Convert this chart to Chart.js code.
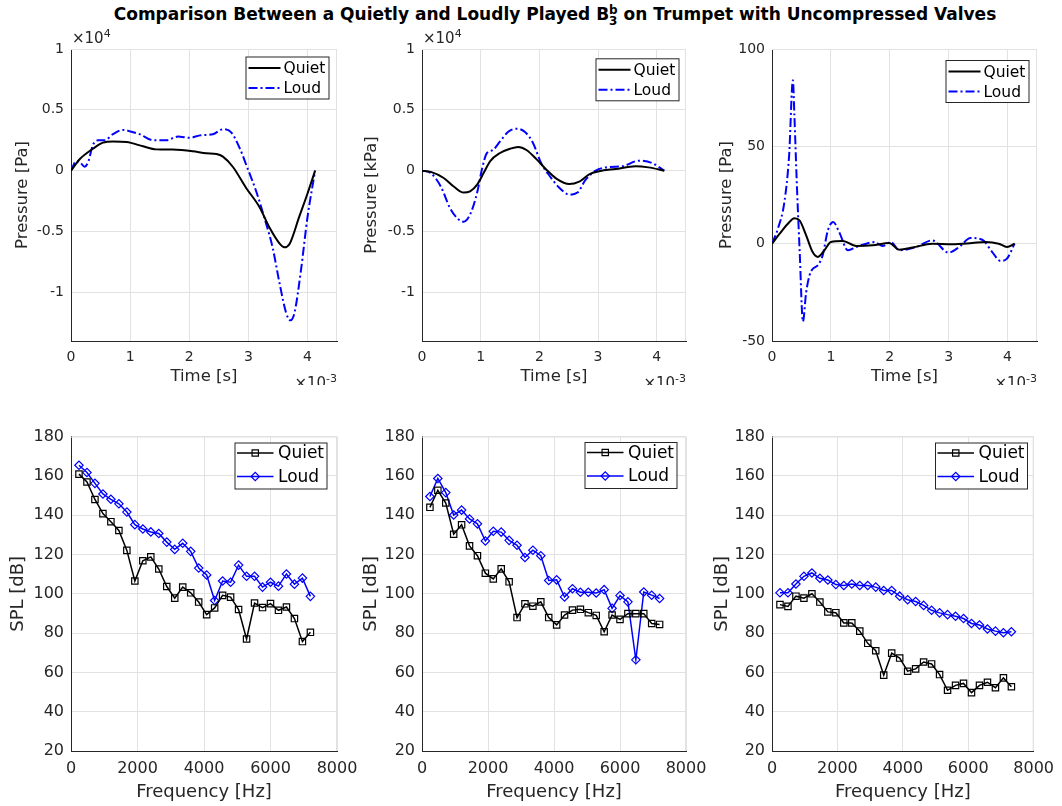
<!DOCTYPE html>
<html>
<head>
<meta charset="utf-8">
<script src="https://cdn.jsdelivr.net/npm/chart.js@4/dist/chart.umd.min.js"></script>
<style>
  body { margin: 0; background: #fff; width: 1062px; height: 806px; position: relative; overflow: hidden; }
  canvas { position: absolute; }
  #title { position: absolute; top: 4px; left: 0; width: 1110px; text-align: center;
           font: bold 17px "DejaVu Sans"; color: #000; white-space: nowrap; }
  .ss { display: inline-block; vertical-align: -0.42em; font-size: 12px; line-height: 11px; text-align: left; }
  .ss span { display: block; }
</style>
</head>
<body>
<div id="title">Comparison Between a Quietly and Loudly Played B<span class="ss"><span>b</span><span>3</span></span> on Trumpet with Uncompressed Valves</div>
<script>
// time in units of 1e-3 s, pressure in units of 1e4 (panels 1 and 2) or Pa (panel 3)
const t1Quiet = [0, 0.15, 0.37, 0.54, 0.71, 0.94, 1.22, 1.44, 1.72, 2.06, 2.29, 2.46, 2.57, 2.74, 2.96, 3.19, 3.36, 3.53, 3.61, 3.70, 3.86, 4.0, 4.13];
const p1Quiet = [0, 0.096, 0.18, 0.23, 0.24, 0.235, 0.2, 0.175, 0.173, 0.16, 0.143, 0.137, 0.115, 0.03, -0.14, -0.30, -0.47, -0.60, -0.63, -0.60, -0.38, -0.19, 0];
const t1Loud = [0, 0.09, 0.15, 0.23, 0.29, 0.37, 0.46, 0.57, 0.71, 0.88, 1.02, 1.16, 1.39, 1.61, 1.81, 2.01, 2.18, 2.40, 2.57, 2.71, 2.85, 2.99, 3.13, 3.27, 3.41, 3.53, 3.64, 3.71, 3.78, 3.89, 4.0, 4.13];
const p1Loud = [0, 0.08, 0.07, 0.033, 0.07, 0.21, 0.25, 0.25, 0.30, 0.335, 0.32, 0.30, 0.25, 0.25, 0.28, 0.27, 0.29, 0.30, 0.34, 0.315, 0.19, 0.015, -0.165, -0.385, -0.63, -0.93, -1.17, -1.23, -1.17, -0.82, -0.385, 0];

const t2Quiet = [0, 0.15, 0.37, 0.54, 0.71, 0.82, 0.94, 1.05, 1.16, 1.33, 1.50, 1.64, 1.78, 1.95, 2.12, 2.29, 2.51, 2.68, 2.85, 3.02, 3.30, 3.64, 3.86, 4.13];
const p2Quiet = [0, -0.01, -0.06, -0.13, -0.18, -0.17, -0.115, -0.02, 0.077, 0.145, 0.18, 0.195, 0.17, 0.095, 0.008, -0.065, -0.11, -0.09, -0.03, -0.005, 0.014, 0.036, 0.027, 0];
const t2Loud = [0, 0.15, 0.32, 0.48, 0.62, 0.71, 0.82, 0.94, 1.02, 1.10, 1.21, 1.33, 1.47, 1.61, 1.75, 1.89, 2.03, 2.18, 2.34, 2.51, 2.65, 2.79, 2.96, 3.19, 3.41, 3.70, 3.92, 4.13];
const p2Loud = [0, -0.02, -0.13, -0.31, -0.40, -0.42, -0.36, -0.18, 0.008, 0.14, 0.17, 0.24, 0.32, 0.345, 0.32, 0.23, 0.063, -0.046, -0.14, -0.197, -0.18, -0.074, 0, 0.03, 0.036, 0.082, 0.063, 0];

const t3Quiet = [0, 0.13, 0.27, 0.38, 0.47, 0.58, 0.69, 0.78, 0.89, 1.0, 1.20, 1.43, 1.71, 1.99, 2.16, 2.39, 2.72, 3.06, 3.40, 3.63, 3.85, 3.99, 4.12];
const p3Quiet = [0, 5.1, 10.2, 13.1, 11.9, 4.3, -4.3, -6.8, -3.4, 0.85, 1.4, -1.2, -0.85, 0.3, -3.1, -2, 0, -0.3, 0.3, 0.85, 0, -1.7, 0];
const t3Loud = [0, 0.10, 0.21, 0.29, 0.355, 0.38, 0.42, 0.47, 0.525, 0.58, 0.64, 0.69, 0.78, 0.86, 0.95, 1.04, 1.14, 1.29, 1.43, 1.60, 1.74, 1.88, 2.02, 2.16, 2.45, 2.72, 3.0, 3.18, 3.37, 3.57, 3.74, 3.88, 3.99, 4.12];
const p3Loud = [0, 7.7, 21.3, 45, 84, 66, 32, -4, -40, -25, -16, -13, -11, -6, 7, 11.1, 6, -3.4, -1.7, 0, 0.85, -1.2, 0.85, -3.4, -1.7, 1.7, -4.6, -1.7, 2.9, 2, -4.3, -8.9, -7.7, 0];

// harmonic frequencies [Hz]
const freqA = [240, 480, 720, 960, 1200, 1440, 1680, 1920, 2160, 2400, 2640, 2880, 3120, 3360, 3600, 3840, 4080, 4320, 4560, 4800, 5040, 5280, 5520, 5760, 6000, 6240, 6480, 6720, 6960, 7200];
const freqB = [244, 488, 732, 976, 1220, 1464, 1708, 1952, 2196, 2440, 2684, 2928, 3172, 3416, 3660, 3904, 4148, 4392, 4636, 4880, 5124, 5368, 5612, 5856, 6100, 6344, 6588, 6832, 7076, 7320];

const spl1Quiet = [160.9, 156.9, 148, 140.8, 136.7, 132.2, 122.1, 106.5, 116.8, 118.8, 112.6, 103.7, 97.8, 103.4, 100.5, 95.8, 89.4, 92.8, 99.2, 98.3, 92, 77, 95.3, 93, 95, 91.6, 93.3, 87.4, 75.7, 80.4];
const spl1Loud = [165.4, 161.7, 156.2, 150.8, 148.1, 145.8, 141.6, 135.2, 133.0, 131.5, 130.7, 126.3, 122.6, 125.7, 121.6, 113.1, 109.6, 96.6, 106.5, 105.9, 114.6, 108.9, 108.9, 103.4, 105.9, 103.9, 110.1, 104.9, 108.0, 98.7];
const spl2Quiet = [144.0, 152.7, 146.2, 130.3, 135.1, 124.4, 119.4, 110.5, 107.6, 112.7, 106.1, 87.9, 94.9, 93.7, 95.9, 87.9, 84.2, 89.2, 91.7, 92.1, 90.4, 89.0, 80.7, 89.2, 87.0, 89.9, 89.9, 89.9, 84.9, 84.4];
const spl2Loud = [149.5, 158.7, 151.5, 140.1, 142.6, 138.1, 135.6, 126.9, 131.8, 131.4, 127.2, 124.7, 118.5, 122.2, 119.4, 106.8, 107.1, 98.4, 102.6, 100.8, 100.8, 100.4, 102.1, 92.6, 99.1, 95.9, 66.4, 100.9, 99.3, 97.6];
const spl3Quiet = [94.5, 93.6, 98.8, 97.8, 100.0, 95.8, 90.8, 90.4, 85.2, 85.2, 81.0, 74.8, 71.0, 58.6, 69.8, 67.3, 60.6, 61.8, 65.3, 64.3, 58.9, 50.9, 53.4, 54.4, 49.7, 53.4, 55.0, 52.2, 57.2, 52.7];
const spl3Loud = [100.5, 100.5, 105.0, 108.9, 110.6, 107.9, 107.0, 104.7, 104.2, 105.0, 104.2, 104.2, 103.4, 101.7, 101.7, 98.8, 97.0, 96.1, 94.1, 91.6, 90.3, 89.4, 88.6, 87.4, 84.9, 84.1, 82.1, 81.0, 80.2, 80.7];

const timeTicks = [0, 1, 2, 3, 4];
const pTicks = [-1, -0.5, 0, 0.5, 1];
const paTicks = [-50, 0, 50, 100];
const freqTicks = [0, 2000, 4000, 6000, 8000];
const splTicks = [20, 40, 60, 80, 100, 120, 140, 160, 180];

const FONT = '"DejaVu Sans"';
const INK = '#262626';
const GRID = '#e2e2e2';

const pts = (xs, ys) => xs.map((x, i) => ({ x: x, y: ys[i] }));

function drawPow(ctx, x, y, exp, size, alignRight) {
  const big = size + 'px ' + FONT, small = Math.round(size * 0.72) + 'px ' + FONT;
  ctx.font = big;
  const wb = ctx.measureText('\u00d710').width;
  ctx.font = small;
  const we = ctx.measureText(exp).width;
  const x0 = alignRight ? x - wb - we : x;
  ctx.fillStyle = INK;
  ctx.textAlign = 'left';
  ctx.textBaseline = 'alphabetic';
  ctx.font = big;
  ctx.fillText('\u00d710', x0, y);
  ctx.font = small;
  ctx.fillText(exp, x0 + wb, y - size * 0.42);
}

function drawMarker(ctx, style, x, y, r) {
  ctx.beginPath();
  if (style === 'rect') {
    const h = r * Math.SQRT1_2;
    ctx.rect(x - h, y - h, 2 * h, 2 * h);
  } else {
    ctx.moveTo(x - r, y); ctx.lineTo(x, y - r); ctx.lineTo(x + r, y); ctx.lineTo(x, y + r); ctx.closePath();
  }
  ctx.stroke();
}

const deco = {
  id: 'deco',
  beforeDatasetsDraw(chart) {
    const { ctx, chartArea: a } = chart;
    ctx.save();
    ctx.strokeStyle = GRID;
    ctx.lineWidth = 1;
    ctx.beginPath();
    ctx.moveTo(a.right - 0.5, a.top);
    ctx.lineTo(a.right - 0.5, a.bottom);
    ctx.moveTo(a.left, a.top + 0.5);
    ctx.lineTo(a.right, a.top + 0.5);
    ctx.stroke();
    ctx.restore();
  },
  afterDraw(chart, args, o) {
    const { ctx, chartArea: a } = chart;
    ctx.save();
    if (o.yExp) drawPow(ctx, a.left + 1, a.top - 6, o.yExp, 15, false);
    if (o.xExp) drawPow(ctx, a.right, a.bottom + 47, o.xExp, 15, true);
    const L = o.legend;
    ctx.fillStyle = '#fff';
    ctx.fillRect(L.x, L.y, L.w, L.h);
    ctx.strokeStyle = INK;
    ctx.lineWidth = 1;
    ctx.strokeRect(L.x + 0.5, L.y + 0.5, L.w, L.h);
    chart.data.datasets.forEach((ds, i) => {
      const yy = L.y + L.rows[i];
      ctx.save();
      ctx.strokeStyle = ds.borderColor;
      ctx.lineWidth = ds.borderWidth;
      ctx.setLineDash(ds.borderDash || []);
      ctx.beginPath();
      ctx.moveTo(L.x + L.line[0], yy);
      ctx.lineTo(L.x + L.line[1], yy);
      ctx.stroke();
      ctx.setLineDash([]);
      if (ds.pointRadius > 0) {
        ctx.lineWidth = ds.pointBorderWidth;
        drawMarker(ctx, ds.pointStyle, L.x + (L.line[0] + L.line[1]) / 2, yy, ds.pointRadius);
      }
      ctx.restore();
      ctx.fillStyle = '#000';
      ctx.font = L.size + 'px ' + FONT;
      ctx.textAlign = 'left';
      ctx.textBaseline = 'middle';
      ctx.fillText(ds.label, L.x + L.text, yy + 1);
    });
    ctx.restore();
  }
};

function makePanel(p) {
  const cv = document.createElement('canvas');
  cv.width = p.w;
  cv.height = p.h;
  cv.style.left = p.left + 'px';
  cv.style.top = p.top + 'px';
  document.body.appendChild(cv);
  const axisTitle = (text, size, pad) => ({
    display: true, text: text, color: INK,
    font: { family: FONT, size: size, lineHeight: pad.lh || 1.2 }, padding: pad
  });
  return new Chart(cv, {
    type: 'line',
    data: { datasets: p.datasets },
    options: {
      responsive: false,
      animation: false,
      devicePixelRatio: 1,
      layout: { padding: { top: p.padTop, right: p.padRight, left: 0, bottom: 0 } },
      plugins: { legend: { display: false }, tooltip: { enabled: false }, deco: p.deco },
      scales: {
        x: {
          type: 'linear', min: p.xMin, max: p.xMax,
          afterBuildTicks: s => { s.ticks = p.xTicks.map(v => ({ value: v })); },
          afterFit: s => { s.height = p.xH; },
          grid: { color: GRID, drawTicks: false },
          border: { color: INK, width: 1 },
          ticks: { color: INK, padding: 8, maxRotation: 0, autoSkip: false, font: { family: FONT, size: p.tickSize }, callback: v => String(v) },
          title: axisTitle(p.xTitle, p.titleSize, p.xTitlePad)
        },
        y: {
          type: 'linear', min: p.yMin, max: p.yMax,
          afterBuildTicks: s => { s.ticks = p.yTicks.map(v => ({ value: v })); },
          afterFit: s => { s.width = p.yW; },
          grid: { color: GRID, drawTicks: false },
          border: { color: INK, width: 1 },
          ticks: { color: INK, padding: 7, autoSkip: false, font: { family: FONT, size: p.tickSize }, callback: v => String(v) },
          title: axisTitle(p.yTitle, p.titleSize, { top: p.yTitlePad, bottom: 0 })
        }
      }
    },
    plugins: [deco]
  });
}

// time-domain traces
function waveSets(tq, pq, tl, pl) {
  return [
    { label: 'Quiet', data: pts(tq, pq), borderColor: '#000', borderWidth: 2, pointRadius: 0, cubicInterpolationMode: 'monotone', fill: false },
    { label: 'Loud', data: pts(tl, pl), borderColor: '#0000ff', borderWidth: 2, borderDash: [9, 3, 2, 3], pointRadius: 0, cubicInterpolationMode: 'monotone', fill: false }
  ];
}

// harmonic spectra
function splSets(f, q, l) {
  return [
    { label: 'Quiet', data: pts(f, q), borderColor: '#000', borderWidth: 1.5, pointStyle: 'rect', pointRadius: 4.5, pointBorderWidth: 1.2,
      pointBorderColor: '#000', pointBackgroundColor: 'rgba(0,0,0,0)', tension: 0, fill: false },
    { label: 'Loud', data: pts(f, l), borderColor: '#0000ff', borderWidth: 1.5, pointStyle: 'rectRot', pointRadius: 4.2, pointBorderWidth: 1.2,
      pointBorderColor: '#0000ff', pointBackgroundColor: 'rgba(0,0,0,0)', tension: 0, fill: false }
  ];
}

const topCommon = { top: 25, h: 360, padTop: 24, xH: 44, xMin: 0, xMax: 4.5, xTicks: timeTicks,
  tickSize: 14, titleSize: 16.5, xTitle: 'Time [s]', xTitlePad: { top: 0, bottom: 0, lh: 1 } };
const topLegend = { w: 83, h: 42, line: [3, 35], text: 38, rows: [11.5, 31.5], size: 15.5 };

makePanel(Object.assign({}, topCommon, {
  left: 0, w: 370, yW: 71, padRight: 33, yMin: -1.4, yMax: 1, yTicks: pTicks, yTitle: 'Pressure [Pa]', yTitlePad: 13,
  datasets: waveSets(t1Quiet, p1Quiet, t1Loud, p1Loud),
  deco: { yExp: '4', xExp: '-3', legend: Object.assign({ x: 245.5, y: 31.5 }, topLegend) }
}));
makePanel(Object.assign({}, topCommon, {
  left: 350, w: 370, yW: 72, padRight: 34, yMin: -1.4, yMax: 1, yTicks: pTicks, yTitle: 'Pressure [kPa]', yTitlePad: 12,
  datasets: waveSets(t2Quiet, p2Quiet, t2Loud, p2Loud),
  deco: { yExp: '4', xExp: '-3', legend: Object.assign({ x: 245.5, y: 33.3 }, topLegend) }
}));
makePanel(Object.assign({}, topCommon, {
  left: 700, w: 362, yW: 72, padRight: 25, yMin: -50, yMax: 100, yTicks: paTicks, yTitle: 'Pressure [Pa]', yTitlePad: 17,
  datasets: waveSets(t3Quiet, p3Quiet, t3Loud, p3Loud),
  deco: { xExp: '-3', legend: Object.assign({ x: 245.5, y: 35 }, topLegend) }
}));

const botCommon = { top: 420, h: 386, padTop: 13, xH: 55, xMin: 0, xMax: 8000, xTicks: freqTicks,
  yMin: 20, yMax: 180, yTicks: splTicks, tickSize: 16, titleSize: 18, xTitle: 'Frequency [Hz]', yTitle: 'SPL [dB]',
  xTitlePad: { top: 0, bottom: 3 } };
const botLegend = { w: 92, h: 46, line: [2.5, 39], text: 43.5, rows: [10.5, 34], size: 17 };

makePanel(Object.assign({}, botCommon, {
  left: 0, w: 370, yW: 71, padRight: 33, yTitlePad: 8,
  datasets: splSets(freqA, spl1Quiet, spl1Loud),
  deco: { legend: Object.assign({ x: 234.5, y: 22.5 }, botLegend) }
}));
makePanel(Object.assign({}, botCommon, {
  left: 350, w: 370, yW: 72, padRight: 34, yTitlePad: 11,
  datasets: splSets(freqA, spl2Quiet, spl2Loud),
  deco: { legend: Object.assign({ x: 234.5, y: 22 }, botLegend) }
}));
makePanel(Object.assign({}, botCommon, {
  left: 700, w: 362, yW: 72, padRight: 25, yTitlePad: 12,
  datasets: splSets(freqB, spl3Quiet, spl3Loud),
  deco: { legend: Object.assign({ x: 235, y: 22.5 }, botLegend) }
}));
</script>
</body>
</html>
